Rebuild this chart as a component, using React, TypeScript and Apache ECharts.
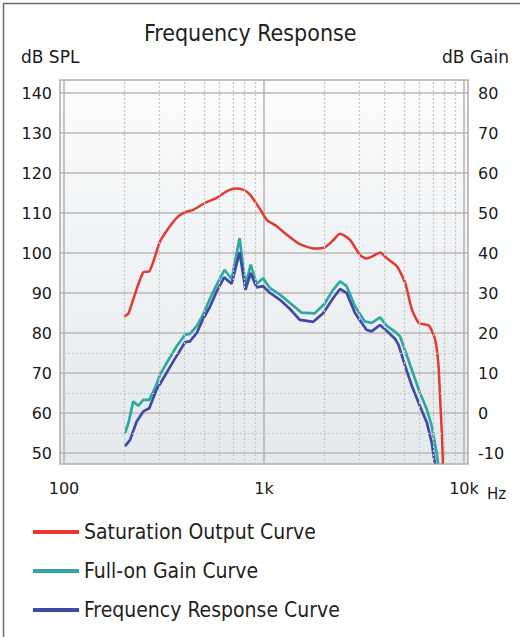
import React, { useEffect, useRef } from "react";
import * as echarts from "echarts";

// Saturation output curve (dB SPL, left axis)
const satFreq = [200, 210, 226, 249, 267, 280, 302, 333, 366, 403, 443, 506, 580, 650, 716, 788, 851, 955, 1032, 1157, 1296, 1510, 1790, 2009, 2200, 2399, 2692, 3020, 3251, 3500, 3802, 4115, 4619, 5082, 5494, 5935, 6300, 6700, 7177, 7457, 7600, 7750, 7850];
const satDb = [84.1, 84.9, 89.6, 95.2, 95.4, 97.9, 102.9, 106.2, 108.8, 110.2, 110.8, 112.5, 113.8, 115.4, 116.1, 115.8, 114.6, 111.0, 108.3, 106.7, 104.6, 102.2, 101.1, 101.4, 103.0, 104.8, 103.3, 99.5, 98.6, 99.2, 100.1, 98.7, 96.7, 92.5, 85.8, 82.5, 82.2, 81.8, 78.3, 71.7, 63.3, 55.0, 47.3];

// Full-on gain curve (dB gain, right axis)
const gainFreq = [202, 210, 222, 235, 249, 267, 285, 302, 326, 366, 403, 426, 461, 496, 536, 580, 635, 689, 755, 808, 858, 918, 990, 1072, 1202, 1349, 1540, 1790, 2009, 2215, 2399, 2590, 2849, 3192, 3452, 3802, 4115, 4529, 4786, 5193, 5628, 6025, 6530, 6900, 7300, 7420];
const gainDb = [-5.0, -2.5, 2.9, 1.8, 3.3, 3.3, 6.2, 9.6, 12.5, 16.7, 19.6, 19.8, 21.7, 24.6, 28.5, 32.1, 35.8, 33.5, 43.7, 32.0, 37.1, 32.3, 33.7, 31.2, 29.6, 27.5, 25.1, 24.9, 27.3, 30.8, 32.9, 31.7, 26.7, 22.9, 22.5, 23.9, 21.8, 20.3, 19.2, 14.2, 9.2, 5.0, 0.8, -3.3, -10.0, -12.7];

// Frequency response curve (dB gain, right axis)
const respFreq = [202, 214, 231, 249, 267, 290, 314, 352, 403, 426, 461, 496, 536, 580, 632, 689, 755, 808, 858, 918, 990, 1072, 1202, 1349, 1510, 1764, 1981, 2215, 2399, 2590, 2849, 3251, 3452, 3802, 4115, 4529, 4700, 5082, 5494, 6025, 6530, 6900, 7150];
const respDb = [-8.3, -6.7, -2.1, 0.4, 1.2, 5.8, 8.7, 12.9, 17.7, 17.9, 20.0, 23.5, 26.5, 30.4, 33.9, 32.3, 40.2, 30.8, 35.0, 31.4, 31.7, 30.0, 28.3, 26.0, 23.3, 22.8, 25.0, 28.7, 31.0, 30.0, 25.0, 20.8, 20.4, 22.0, 20.5, 18.5, 17.1, 11.7, 6.7, 1.7, -2.5, -7.5, -12.7];

const splTicks = [50, 60, 70, 80, 90, 100, 110, 120, 130, 140];
const gainTicks = [-10, 0, 10, 20, 30, 40, 50, 60, 70, 80];
const freqTicks = [100, 1000, 10000];
const freqTickLabels = ["100", "1k", "10k"];
const minorFreqLines = [200, 300, 400, 500, 600, 700, 800, 900, 2000, 3000, 4000, 5000, 6000, 7000, 8000, 9000];
const minorSplLines = [55, 65, 75];

const seriesNames = ["Saturation Output Curve", "Full-on Gain Curve", "Frequency Response Curve"];
const seriesColors = ["#e4392e", "#2ea8a1", "#3e4aa6"];

const COND = "'DejaVu Sans Condensed', 'Liberation Sans Narrow', 'Open Sans', sans-serif";
const TICKFONT = "'DejaVu Sans', Verdana, sans-serif";
const GRID = "#bdb6b3";
const DOT = "#cbc4c1";

const pairs = (xs: number[], ys: number[]) => xs.map((x, i) => [x, ys[i]]);

export default function App() {
  const ref = useRef<HTMLDivElement | null>(null);
  useEffect(() => {
    if (!ref.current) return;
    const chart = echarts.init(ref.current, null, { renderer: "svg" });
    const option: any = {
      animation: false,
      backgroundColor: "#ffffff",
      title: {
        text: "Frequency Response",
        left: 144,
        top: 21,
        padding: 0,
        textStyle: { fontFamily: COND, fontSize: 23, fontWeight: "normal", color: "#231f20" },
      },
      legend: {
        orient: "vertical",
        left: 33,
        top: 520,
        padding: 0,
        itemWidth: 46,
        itemHeight: 4,
        itemGap: 15,
        icon: "rect",
        data: seriesNames,
        textStyle: { fontFamily: COND, fontSize: 21, color: "#231f20", lineHeight: 24 },
      },
      grid: { left: 60, right: 52, top: 80, bottom: 173 },
      xAxis: {
        type: "log",
        logBase: 10,
        min: 95.5,
        max: 10471,
        axisLine: { show: false },
        axisTick: { show: false, customValues: freqTicks },
        axisLabel: {
          customValues: freqTicks,
          formatter: (v: number) => {
            const i = freqTicks.findIndex((t) => Math.abs(t - v) / t < 0.01);
            return i >= 0 ? freqTickLabels[i] : "";
          },
          margin: 16,
          fontFamily: TICKFONT,
          fontSize: 16,
          color: "#1a1a1a",
        },
        splitLine: { show: true, lineStyle: { color: GRID, width: 1.6 } },
      },
      yAxis: [
        {
          type: "value",
          min: 47.25,
          max: 143.25,
          axisLine: { show: false },
          axisTick: { show: false, customValues: splTicks },
          axisLabel: { customValues: splTicks, margin: 8, fontFamily: TICKFONT, fontSize: 16, color: "#1a1a1a" },
          splitLine: { show: true, lineStyle: { color: GRID, width: 1.6 } },
        },
        {
          type: "value",
          position: "right",
          min: -12.75,
          max: 83.25,
          axisLine: { show: false },
          axisTick: { show: false, customValues: gainTicks },
          axisLabel: { customValues: gainTicks, margin: 10, fontFamily: TICKFONT, fontSize: 16, color: "#1a1a1a" },
          splitLine: { show: false },
        },
      ],
      graphic: [
        {
          type: "rect",
          z: -10,
          shape: { x: 60, y: 80, width: 408, height: 384 },
          style: {
            fill: new echarts.graphic.LinearGradient(0, 0, 0, 1, [
              { offset: 0, color: "#fbfcfd" },
              { offset: 1, color: "#e3e9ed" },
            ]),
            stroke: "#b3aba8",
            lineWidth: 1.5,
          },
          silent: true,
        },
        { type: "line", shape: { x1: 3, y1: 3.5, x2: 520, y2: 3.5 }, style: { stroke: "#6d6d6d", lineWidth: 1.5 }, silent: true },
        { type: "line", shape: { x1: 3.5, y1: 3, x2: 3.5, y2: 637 }, style: { stroke: "#6d6d6d", lineWidth: 1.5 }, silent: true },
        {
          type: "text",
          x: 21,
          y: 57,
          style: { text: "dB SPL", fontFamily: TICKFONT, fontSize: 17, fill: "#1a1a1a", textVerticalAlign: "middle" },
        },
        {
          type: "text",
          x: 509,
          y: 57,
          style: { text: "dB Gain", fontFamily: TICKFONT, fontSize: 17, fill: "#1a1a1a", textAlign: "right", textVerticalAlign: "middle" },
        },
        {
          type: "text",
          x: 487,
          y: 494,
          style: { text: "Hz", fontFamily: TICKFONT, fontSize: 15, fill: "#1a1a1a", textVerticalAlign: "middle" },
        },
      ],
      series: [
        {
          name: "grid-minor",
          type: "line",
          data: [],
          z: 1,
          silent: true,
          markLine: {
            silent: true,
            symbol: ["none", "none"],
            label: { show: false },
            lineStyle: { color: DOT, width: 1.2, type: [2, 2] },
            data: [
              ...minorFreqLines.map((f) => ({ xAxis: f })),
              ...minorSplLines.map((v) => ({ yAxis: v })),
            ],
          },
        },
        {
          name: seriesNames[0],
          type: "line",
          yAxisIndex: 0,
          data: pairs(satFreq, satDb),
          showSymbol: false,
          smooth: 0.2,
          z: 3,
          clip: false,
          itemStyle: { color: seriesColors[0] },
          lineStyle: { color: seriesColors[0], width: 2.5 },
        },
        {
          name: seriesNames[1],
          type: "line",
          yAxisIndex: 1,
          data: pairs(gainFreq, gainDb),
          showSymbol: false,
          z: 3,
          clip: false,
          itemStyle: { color: seriesColors[1] },
          lineStyle: { color: seriesColors[1], width: 2.7 },
        },
        {
          name: seriesNames[2],
          type: "line",
          yAxisIndex: 1,
          data: pairs(respFreq, respDb),
          showSymbol: false,
          z: 4,
          clip: false,
          itemStyle: { color: seriesColors[2] },
          lineStyle: { color: seriesColors[2], width: 2.7 },
        },
      ],
    };
    chart.setOption(option);
    return () => chart.dispose();
  }, []);
  return (
    <div
      ref={ref}
      style={{ position: "fixed", left: 0, top: 0, width: 520, height: 637, background: "#fff" }}
    />
  );
}
